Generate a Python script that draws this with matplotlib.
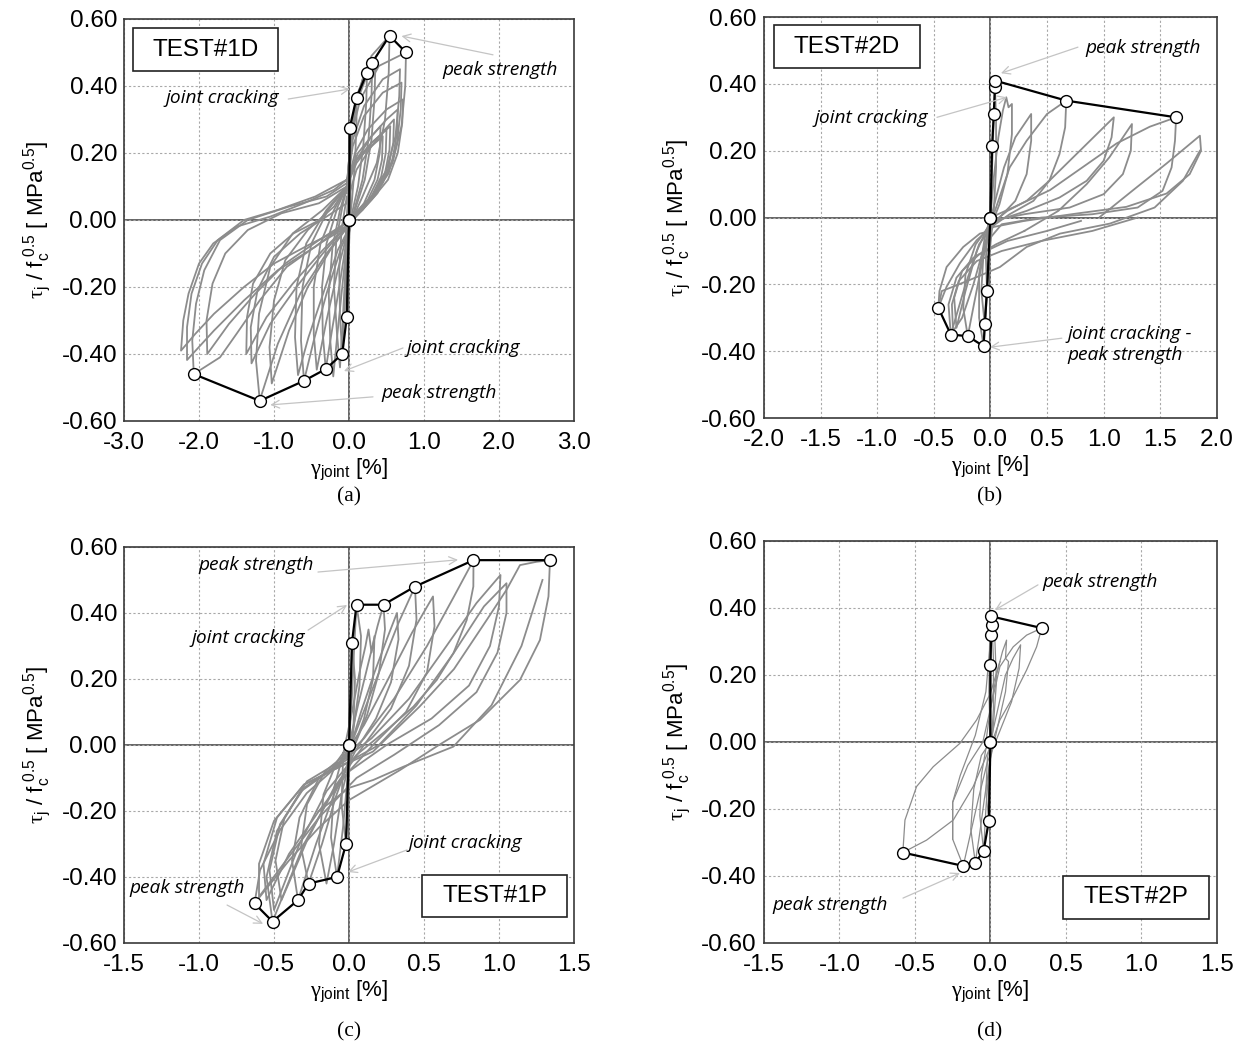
import matplotlib
matplotlib.use("Agg")
import matplotlib.pyplot as plt
from matplotlib.patches import Rectangle

plt.rcParams['font.family'] = ['Liberation Sans', 'DejaVu Sans']
plt.rcParams['axes.unicode_minus'] = False
plt.rcParams['mathtext.fontset'] = 'custom'
plt.rcParams['mathtext.rm'] = 'Liberation Sans'
plt.rcParams['mathtext.it'] = 'Liberation Sans:italic'
plt.rcParams['mathtext.sf'] = 'Liberation Serif'

# ---------------- panel (a) TEST#1D ----------------
env_a_pos = [(0.0, 0.0), (0.01, 0.275), (0.10, 0.365), (0.24, 0.44), (0.31, 0.47), (0.54, 0.55), (0.76, 0.50)]
env_a_neg = [(0.0, 0.0), (-0.03, -0.29), (-0.09, -0.40), (-0.31, -0.445), (-0.60, -0.48), (-1.19, -0.54), (-2.07, -0.46)]
loops_a = [
    [(0.0, 0.0), (0.005, 0.14), (0.01, 0.27), (0.02, 0.16), (0.02, 0.04), (0.0, -0.08), (-0.02, -0.19), (-0.03, -0.29),
     (-0.05, -0.16), (-0.04, -0.03), (-0.01, 0.08)],
    [(-0.01, 0.08), (0.02, 0.2), (0.05, 0.3), (0.10, 0.365), (0.10, 0.29), (0.08, 0.17), (0.04, 0.06), (0.0, -0.02),
     (-0.03, -0.13), (-0.06, -0.26), (-0.09, -0.40), (-0.12, -0.29), (-0.13, -0.15), (-0.1, -0.03), (-0.03, 0.07)],
    [(-0.03, 0.08), (0.0, 0.18), (0.05, 0.3), (0.12, 0.38), (0.24, 0.44), (0.23, 0.35), (0.19, 0.22), (0.12, 0.1),
     (0.04, 0.02), (-0.02, -0.06), (-0.06, -0.2), (-0.09, -0.33), (-0.12, -0.44), (-0.16, -0.34), (-0.2, -0.2),
     (-0.17, -0.06), (-0.08, 0.05), (-0.02, 0.1)],
    [(-0.02, 0.1), (0.02, 0.22), (0.08, 0.33), (0.18, 0.42), (0.31, 0.47), (0.30, 0.37), (0.26, 0.24), (0.18, 0.12),
     (0.07, 0.03), (-0.03, -0.07), (-0.09, -0.2), (-0.15, -0.33), (-0.21, -0.467), (-0.25, -0.36), (-0.27, -0.22),
     (-0.22, -0.08), (-0.12, 0.03), (-0.03, 0.1)],
    [(-0.03, 0.1), (0.02, 0.23), (0.1, 0.35), (0.22, 0.42), (0.35, 0.45), (0.34, 0.36), (0.3, 0.24), (0.21, 0.12),
     (0.08, 0.03), (-0.04, -0.07), (-0.13, -0.2), (-0.22, -0.32), (-0.31, -0.445), (-0.35, -0.34), (-0.36, -0.2),
     (-0.3, -0.07), (-0.15, 0.04), (-0.03, 0.1)],
    [(-0.03, 0.1), (0.03, 0.26), (0.12, 0.38), (0.3, 0.49), (0.54, 0.55), (0.53, 0.44), (0.48, 0.3), (0.37, 0.17),
     (0.18, 0.07), (0.0, -0.02), (-0.15, -0.15), (-0.3, -0.3), (-0.43, -0.447), (-0.47, -0.34), (-0.47, -0.2),
     (-0.38, -0.07), (-0.2, 0.03), (-0.03, 0.1)],
    [(-0.03, 0.1), (0.04, 0.26), (0.15, 0.36), (0.4, 0.46), (0.76, 0.50), (0.75, 0.40), (0.7, 0.28), (0.58, 0.17),
     (0.38, 0.09), (0.1, 0.02), (-0.1, -0.08), (-0.3, -0.22), (-0.47, -0.36), (-0.60, -0.48), (-0.64, -0.36),
     (-0.62, -0.2), (-0.5, -0.07), (-0.28, 0.03), (-0.03, 0.1)],
    [(-0.03, 0.1), (0.05, 0.22), (0.2, 0.31), (0.45, 0.38), (0.70, 0.41), (0.69, 0.33), (0.64, 0.23), (0.53, 0.14),
     (0.32, 0.07), (0.08, 0.01), (-0.15, -0.09), (-0.36, -0.23), (-0.54, -0.35), (-0.68, -0.463), (-0.72, -0.35),
     (-0.7, -0.2), (-0.57, -0.07), (-0.3, 0.03), (-0.03, 0.1)],
    [(-0.03, 0.1), (0.08, 0.2), (0.25, 0.27), (0.5, 0.33), (0.72, 0.36), (0.71, 0.29), (0.65, 0.2), (0.52, 0.12),
     (0.3, 0.06), (0.05, 0.0), (-0.25, -0.09), (-0.55, -0.2), (-0.8, -0.33), (-1.03, -0.488), (-1.06, -0.38),
     (-1.0, -0.24), (-0.85, -0.12), (-0.55, -0.03), (-0.2, 0.04), (-0.03, 0.1)],
    [(-0.03, 0.1), (0.05, 0.24), (0.2, 0.34), (0.45, 0.42), (0.68, 0.45), (0.67, 0.37), (0.62, 0.25), (0.5, 0.15),
     (0.3, 0.07), (0.05, 0.0), (-0.3, -0.1), (-0.65, -0.22), (-0.95, -0.37), (-1.19, -0.538), (-1.24, -0.42),
     (-1.2, -0.28), (-1.05, -0.14), (-0.75, -0.04), (-0.35, 0.03), (-0.03, 0.1)],
    [(-0.03, 0.1), (0.1, 0.18), (0.3, 0.25), (0.5, 0.3), (0.65, 0.33), (0.64, 0.26), (0.58, 0.18), (0.45, 0.11),
     (0.25, 0.05), (0.05, 0.0), (-0.35, -0.09), (-0.75, -0.19), (-1.1, -0.29), (-1.37, -0.40), (-1.36, -0.29),
     (-1.28, -0.19), (-1.05, -0.1), (-0.74, -0.04), (-0.39, 0.0), (-0.03, 0.1)],
    [(-0.03, 0.05), (0.1, 0.15), (0.3, 0.22), (0.48, 0.27), (0.6, 0.30), (0.59, 0.23), (0.52, 0.15), (0.38, 0.08),
     (0.18, 0.03), (0.0, -0.01), (-0.35, -0.1), (-0.7, -0.2), (-1.05, -0.31), (-1.30, -0.428), (-1.31, -0.32),
     (-1.22, -0.21), (-1.0, -0.11), (-0.65, -0.04), (-0.3, 0.01), (-0.03, 0.05)],
    [(-0.03, 0.1), (0.1, 0.17), (0.3, 0.23), (0.45, 0.26), (0.55, 0.28), (0.54, 0.21), (0.48, 0.14), (0.35, 0.08),
     (0.18, 0.03), (0.02, 0.0), (-0.4, -0.06), (-0.85, -0.13), (-1.25, -0.22), (-1.6, -0.31), (-1.89, -0.40),
     (-1.9, -0.3), (-1.82, -0.19), (-1.65, -0.1), (-1.35, -0.03), (-0.9, 0.02), (-0.4, 0.05), (-0.03, 0.1)],
    [(-0.03, 0.11), (0.1, 0.18), (0.3, 0.23), (0.5, 0.27), (0.49, 0.2), (0.43, 0.13), (0.3, 0.07), (0.1, 0.02),
     (-0.03, -0.02), (-0.39, -0.07), (-0.83, -0.14), (-1.19, -0.24), (-1.5, -0.34), (-1.72, -0.41), (-2.07, -0.46),
     (-2.09, -0.36), (-2.04, -0.25), (-1.93, -0.15), (-1.72, -0.06), (-1.35, 0.0), (-0.8, 0.04), (-0.3, 0.07),
     (-0.03, 0.11)],
    [(-0.03, 0.12), (0.12, 0.2), (0.3, 0.25), (0.42, 0.28), (0.41, 0.2), (0.34, 0.12), (0.2, 0.05), (0.02, 0.0),
     (-0.45, -0.08), (-0.95, -0.15), (-1.4, -0.24), (-1.8, -0.33), (-2.16, -0.418), (-2.16, -0.32), (-2.1, -0.22),
     (-1.96, -0.13), (-1.75, -0.06), (-1.4, 0.0), (-0.95, 0.03), (-0.45, 0.07), (-0.03, 0.12)],
    [(-0.03, 0.12), (0.1, 0.18), (0.3, 0.22), (0.45, 0.25), (0.44, 0.18), (0.38, 0.12), (0.25, 0.06), (0.08, 0.02),
     (-0.05, -0.02), (-0.5, -0.07), (-1.0, -0.13), (-1.4, -0.2), (-1.8, -0.28), (-2.05, -0.34), (-2.24, -0.39),
     (-2.21, -0.3), (-2.14, -0.22), (-2.0, -0.13), (-1.81, -0.07), (-1.5, -0.02), (-1.05, 0.01), (-0.6, 0.05),
     (-0.2, 0.09), (-0.03, 0.12)],
]

# ---------------- panel (b) TEST#2D ----------------
env_b_pos = [(0.0, 0.0), (0.015, 0.215), (0.03, 0.31), (0.04, 0.39), (0.04, 0.41), (0.67, 0.35), (1.64, 0.30)]
env_b_neg = [(0.0, 0.0), (-0.03, -0.22), (-0.05, -0.32), (-0.06, -0.385), (-0.20, -0.355), (-0.35, -0.35), (-0.46, -0.27)]
loops_b = [
    [(0.0, 0.0), (0.01, 0.1), (0.02, 0.2), (0.03, 0.31), (0.04, 0.39), (0.05, 0.3), (0.05, 0.15), (0.03, 0.02),
     (0.0, -0.08), (-0.02, -0.15), (-0.03, -0.22), (-0.04, -0.12), (-0.02, -0.02), (0.0, 0.0)],
    [(0.0, 0.0), (0.03, 0.12), (0.07, 0.24), (0.11, 0.32), (0.14, 0.36), (0.16, 0.33), (0.19, 0.34), (0.19, 0.25),
     (0.15, 0.13), (0.08, 0.04), (0.0, -0.03), (-0.02, -0.15), (-0.04, -0.25), (-0.05, -0.32), (-0.08, -0.22),
     (-0.06, -0.1), (-0.01, -0.02)],
    [(-0.01, -0.02), (0.05, 0.06), (0.12, 0.15), (0.22, 0.24), (0.36, 0.31), (0.36, 0.23), (0.32, 0.13),
     (0.22, 0.05), (0.08, 0.0), (0.0, -0.04), (-0.02, -0.15), (-0.04, -0.28), (-0.06, -0.385), (-0.1, -0.3),
     (-0.1, -0.17), (-0.05, -0.06), (0.02, 0.0)],
    [(0.02, 0.0), (0.1, 0.08), (0.17, 0.15), (0.32, 0.23), (0.5, 0.31), (0.67, 0.35), (0.66, 0.27), (0.61, 0.19),
     (0.52, 0.11), (0.38, 0.05), (0.17, 0.01), (0.0, -0.03), (-0.07, -0.13), (-0.14, -0.25), (-0.2, -0.355),
     (-0.24, -0.27), (-0.22, -0.17), (-0.13, -0.08), (0.0, -0.02)],
    [(0.0, -0.02), (0.15, 0.02), (0.32, 0.05), (0.52, 0.11), (0.73, 0.18), (0.91, 0.24), (1.09, 0.30),
     (1.07, 0.24), (1.0, 0.17), (0.85, 0.11), (0.61, 0.06), (0.32, 0.02), (0.05, -0.01), (-0.1, -0.08),
     (-0.22, -0.2), (-0.35, -0.35), (-0.37, -0.26), (-0.3, -0.18), (-0.15, -0.12), (0.05, -0.08), (0.3, -0.04)],
    [(0.3, -0.04), (0.6, 0.02), (0.85, 0.1), (1.05, 0.18), (1.25, 0.28), (1.24, 0.2), (1.17, 0.13), (1.0, 0.07),
     (0.7, 0.03), (0.3, 0.01), (0.0, -0.01), (-0.12, -0.1), (-0.22, -0.22), (-0.3, -0.33), (-0.32, -0.24),
     (-0.25, -0.16), (-0.1, -0.11), (0.15, -0.07), (0.5, -0.04), (0.8, -0.01)],
    [(0.0, 0.0), (0.2, 0.03), (0.525, 0.082), (0.82, 0.152), (1.115, 0.222), (1.408, 0.272), (1.64, 0.30),
     (1.63, 0.23), (1.6, 0.15), (1.52, 0.08), (1.3, 0.03), (0.9, 0.01), (0.45, 0.0), (0.1, -0.02), (-0.05, -0.08),
     (-0.15, -0.2), (-0.25, -0.3), (-0.33, -0.34), (-0.34, -0.26), (-0.28, -0.19), (-0.12, -0.13), (0.1, -0.1),
     (0.45, -0.07), (0.9, -0.04), (1.3, 0.0)],
    [(0.967, 0.002), (1.26, 0.082), (1.556, 0.162), (1.85, 0.245), (1.86, 0.2), (1.76, 0.13), (1.556, 0.072),
     (1.2, 0.032), (0.76, 0.012), (0.3, -0.01), (0.0, -0.03), (-0.122, -0.068), (-0.27, -0.137), (-0.387, -0.207),
     (-0.46, -0.27), (-0.45, -0.22), (-0.387, -0.148), (-0.24, -0.088), (-0.093, -0.048), (0.0, -0.04)],
    [(-0.46, -0.27), (-0.43, -0.22), (-0.33, -0.207), (-0.12, -0.178), (0.084, -0.148), (0.32, -0.088),
     (0.614, -0.048), (1.055, -0.018), (1.45, 0.03), (1.7, 0.11), (1.85, 0.2)],
]

# ---------------- panel (c) TEST#1P ----------------
env_c_pos = [(0.0, 0.0), (0.02, 0.31), (0.05, 0.425), (0.23, 0.425), (0.44, 0.48), (0.83, 0.56), (1.34, 0.56)]
env_c_neg = [(0.0, 0.0), (-0.02, -0.30), (-0.08, -0.40), (-0.27, -0.42), (-0.34, -0.47), (-0.51, -0.535), (-0.63, -0.48)]
loops_c = [
    [(0.0, 0.0), (0.01, 0.15), (0.02, 0.31), (0.04, 0.2), (0.03, 0.06), (0.0, -0.08), (-0.01, -0.2), (-0.02, -0.30),
     (-0.05, -0.18), (-0.04, -0.05), (0.0, 0.0)],
    [(0.0, 0.0), (0.02, 0.15), (0.035, 0.3), (0.05, 0.425), (0.08, 0.33), (0.07, 0.18), (0.03, 0.05), (-0.01, -0.1),
     (-0.04, -0.25), (-0.08, -0.40), (-0.12, -0.28), (-0.1, -0.13), (-0.04, -0.03)],
    [(-0.04, -0.03), (0.02, 0.1), (0.07, 0.22), (0.11, 0.3), (0.13, 0.35), (0.15, 0.28), (0.17, 0.33), (0.16, 0.2),
     (0.1, 0.08), (0.02, -0.02), (-0.05, -0.15), (-0.1, -0.3), (-0.15, -0.42), (-0.2, -0.3), (-0.17, -0.15),
     (-0.08, -0.05), (0.0, 0.0)],
    [(0.0, 0.0), (0.06, 0.12), (0.13, 0.25), (0.19, 0.36), (0.23, 0.425), (0.24, 0.35), (0.2, 0.22), (0.12, 0.09),
     (0.02, -0.02), (-0.09, -0.16), (-0.18, -0.3), (-0.27, -0.42), (-0.32, -0.31), (-0.28, -0.18), (-0.16, -0.08),
     (0.0, -0.02)],
    [(0.0, -0.02), (0.08, 0.1), (0.17, 0.22), (0.26, 0.33), (0.32, 0.40), (0.33, 0.32), (0.28, 0.19), (0.18, 0.08),
     (0.04, -0.02), (-0.1, -0.15), (-0.22, -0.3), (-0.34, -0.47), (-0.38, -0.35), (-0.33, -0.22), (-0.2, -0.1),
     (-0.02, -0.04)],
    [(-0.02, -0.04), (0.08, 0.08), (0.2, 0.22), (0.33, 0.37), (0.44, 0.48), (0.45, 0.38), (0.4, 0.24), (0.28, 0.11),
     (0.1, 0.0), (-0.1, -0.13), (-0.28, -0.29), (-0.45, -0.47), (-0.49, -0.35), (-0.43, -0.22), (-0.28, -0.11),
     (-0.06, -0.05)],
    [(-0.06, -0.05), (0.1, 0.06), (0.25, 0.19), (0.42, 0.34), (0.56, 0.45), (0.57, 0.36), (0.52, 0.22), (0.38, 0.1),
     (0.16, 0.0), (-0.08, -0.12), (-0.3, -0.3), (-0.51, -0.535), (-0.55, -0.4), (-0.48, -0.26), (-0.32, -0.14),
     (-0.1, -0.07)],
    [(-0.1, -0.07), (0.1, 0.02), (0.3, 0.14), (0.52, 0.3), (0.7, 0.45), (0.83, 0.56), (0.829, 0.48), (0.785, 0.379),
     (0.696, 0.278), (0.585, 0.197), (0.429, 0.116), (0.251, 0.045), (0.05, -0.03), (-0.15, -0.14), (-0.33, -0.3),
     (-0.5, -0.5), (-0.53, -0.38), (-0.46, -0.24), (-0.3, -0.13), (-0.08, -0.06)],
    [(-0.08, -0.06), (0.15, 0.02), (0.4, 0.14), (0.65, 0.3), (0.85, 0.43), (1.01, 0.515), (1.0, 0.42), (0.94, 0.3),
     (0.8, 0.18), (0.55, 0.08), (0.25, 0.0), (0.0, -0.08), (-0.2, -0.2), (-0.4, -0.33), (-0.55, -0.47),
     (-0.57, -0.36), (-0.48, -0.22), (-0.3, -0.12), (-0.08, -0.07)],
    [(-0.08, -0.07), (0.2, 0.0), (0.45, 0.12), (0.7, 0.28), (0.9, 0.42), (1.05, 0.49), (1.05, 0.4), (0.99, 0.28),
     (0.85, 0.16), (0.6, 0.06), (0.3, -0.03), (0.05, -0.1), (-0.2, -0.22), (-0.42, -0.35), (-0.6, -0.46),
     (-0.6, -0.36), (-0.5, -0.23), (-0.3, -0.12), (-0.08, -0.07)],
    [(-0.08, -0.07), (0.16, -0.02), (0.47, 0.116), (0.7, 0.23), (0.92, 0.38), (1.05, 0.47), (1.14, 0.545),
     (1.25, 0.555), (1.34, 0.56), (1.33, 0.45), (1.273, 0.318), (1.14, 0.197), (0.873, 0.076), (0.6, 0.0),
     (0.34, -0.076), (0.0, -0.167), (-0.2, -0.25), (-0.4, -0.35), (-0.63, -0.48), (-0.593, -0.379),
     (-0.46, -0.258), (-0.282, -0.146), (-0.082, -0.066), (0.0, -0.04)],
    [(-0.2, -0.2), (0.0, -0.13), (0.162, -0.106), (0.362, -0.066), (0.696, -0.005), (0.95, 0.12), (1.15, 0.3),
     (1.29, 0.5)],
]

# ---------------- panel (d) TEST#2P ----------------
env_d_pos = [(0.0, 0.0), (0.0, 0.23), (0.005, 0.32), (0.01, 0.35), (0.005, 0.375), (0.34, 0.34)]
env_d_neg = [(0.0, 0.0), (-0.01, -0.235), (-0.045, -0.325), (-0.10, -0.36), (-0.18, -0.37), (-0.58, -0.33)]
loops_d = [
    [(0.0, 0.0), (0.0, 0.15), (0.005, 0.32), (0.01, 0.35), (0.02, 0.25), (0.02, 0.1), (0.0, -0.05), (-0.01, -0.15),
     (-0.01, -0.235), (-0.03, -0.15), (-0.02, -0.05), (0.0, 0.0)],
    [(0.0, 0.0), (-0.01, 0.15), (-0.005, 0.3), (0.005, 0.375), (0.03, 0.3), (0.04, 0.18), (0.02, 0.05),
     (-0.01, -0.08), (-0.03, -0.2), (-0.045, -0.325), (-0.07, -0.22), (-0.06, -0.1), (-0.03, -0.02), (0.0, 0.0)],
    [(-0.03, 0.0), (0.0, 0.1), (0.04, 0.2), (0.08, 0.27), (0.107, 0.304), (0.1, 0.25), (0.12, 0.24), (0.1, 0.15),
     (0.05, 0.05), (0.0, -0.05), (-0.04, -0.17), (-0.07, -0.27), (-0.1, -0.36), (-0.13, -0.26), (-0.11, -0.14),
     (-0.06, -0.04), (0.0, 0.0)],
    [(0.0, 0.0), (0.05, 0.1), (0.1, 0.2), (0.15, 0.25), (0.2, 0.29), (0.19, 0.22), (0.14, 0.12), (0.06, 0.03),
     (-0.02, -0.06), (-0.08, -0.17), (-0.13, -0.27), (-0.18, -0.37), (-0.25, -0.29), (-0.25, -0.18),
     (-0.15, -0.07), (-0.05, 0.0)],
    [(-0.05, 0.0), (0.0, 0.1), (0.063, 0.225), (0.151, 0.284), (0.24, 0.319), (0.34, 0.34), (0.306, 0.284),
     (0.24, 0.215), (0.151, 0.135), (0.063, 0.066), (0.0, -0.014), (-0.114, -0.133), (-0.246, -0.233),
     (-0.423, -0.293), (-0.58, -0.33), (-0.566, -0.233), (-0.489, -0.133), (-0.379, -0.074), (-0.202, -0.004),
     (-0.091, 0.066), (0.0, 0.145), (0.063, 0.24)],
    [(-0.25, -0.29), (-0.25, -0.18), (-0.2, -0.1), (-0.1, 0.02), (-0.03, 0.15), (0.0, 0.3)],
]

GRAY = '#8c8c8c'
ARROW = '#c4c4c4'


def draw_panel(ax, loops, env_pos, env_neg, xlim, xstep, lw, test, box_xy):
    for loop in loops:
        xs, ys = zip(*loop)
        ax.plot(xs, ys, color=GRAY, lw=lw, zorder=2, solid_joinstyle='round')
    for env in (env_pos, env_neg):
        xs, ys = zip(*env)
        ax.plot(xs, ys, color='black', lw=1.6, marker='o', ms=8.5, mfc='white', mec='black', mew=1.0, zorder=4)

    ax.set_xlim(-xlim, xlim)
    ax.set_ylim(-0.6, 0.6)
    n = int(round(2 * xlim / xstep))
    ax.set_xticks([-xlim + i * xstep for i in range(n + 1)])
    ax.set_yticks([-0.6 + 0.2 * i for i in range(7)])
    ax.xaxis.set_major_formatter(matplotlib.ticker.FormatStrFormatter('%.1f'))
    ax.yaxis.set_major_formatter(matplotlib.ticker.FormatStrFormatter('%.2f'))
    ax.grid(True, ls=(0, (2, 2)), color='#a8a8a8', lw=0.8, zorder=0)
    ax.axhline(0, color='#3a3a3a', lw=1.1, zorder=1)
    ax.axvline(0, color='#3a3a3a', lw=1.1, zorder=1)
    for s in ax.spines.values():
        s.set_color('#3a3a3a')
        s.set_linewidth(1.2)
    ax.tick_params(length=0, labelsize=17.5)
    ax.tick_params(axis='x', pad=8)
    ax.tick_params(axis='y', pad=5)
    ax.set_xlabel(r'$\mathsf{\gamma}_{\mathrm{joint}}$ [%]', fontsize=16, labelpad=2)
    ax.set_ylabel(r'$\mathsf{\tau}_{\mathrm{j}}$ / $\mathrm{f}_{\mathrm{c}}^{\ 0.5}$ [ MPa$^{0.5}$]',
                  fontsize=16, labelpad=6)

    w, h = 0.322, 0.107
    ax.add_patch(Rectangle((box_xy[0] - w / 2, box_xy[1] - h / 2), w, h, transform=ax.transAxes,
                           facecolor='white', edgecolor='#222222', lw=1.2, zorder=6))
    ax.text(box_xy[0], box_xy[1], test, transform=ax.transAxes, ha='center', va='center',
            fontsize=17.5, zorder=7)


def note(ax, text, text_xy, start, tip, ha='center'):
    ax.text(text_xy[0], text_xy[1], text, ha=ha, va='center', fontsize=13.8, style='italic',
            family='Open Sans', zorder=7, linespacing=1.15)
    ax.annotate('', xy=tip, xytext=start,
                arrowprops=dict(arrowstyle='->', color=ARROW, lw=0.9, shrinkA=0, shrinkB=0,
                                mutation_scale=14), zorder=5)


fig = plt.figure(figsize=(12.44, 10.48), dpi=100)
ax_a = fig.add_axes([0.0997, 0.5983, 0.3617, 0.3836])
ax_b = fig.add_axes([0.6141, 0.6011, 0.3641, 0.3826])
ax_c = fig.add_axes([0.0997, 0.1002, 0.3617, 0.3779])
ax_d = fig.add_axes([0.6141, 0.1002, 0.3641, 0.3836])

draw_panel(ax_a, loops_a, env_a_pos, env_a_neg, 3.0, 1.0, 1.3, 'TEST#1D', (0.181, 0.923))
draw_panel(ax_b, loops_b, env_b_pos, env_b_neg, 2.0, 0.5, 1.3, 'TEST#2D', (0.183, 0.926))
draw_panel(ax_c, loops_c, env_c_pos, env_c_neg, 1.5, 0.5, 1.3, 'TEST#1P', (0.824, 0.119))
draw_panel(ax_d, loops_d, env_d_pos, env_d_neg, 1.5, 0.5, 0.9, 'TEST#2P', (0.821, 0.114))

note(ax_a, 'peak strength', (2.01, 0.448), (1.92, 0.493), (0.70, 0.549))
note(ax_a, 'joint cracking', (-1.69, 0.364), (-0.81, 0.361), (0.013, 0.391))
note(ax_a, 'joint cracking', (1.52, -0.382), (0.72, -0.382), (-0.067, -0.451))
note(ax_a, 'peak strength', (1.2, -0.516), (0.32, -0.528), (-1.05, -0.552))

note(ax_b, 'peak strength', (1.347, 0.507), (0.773, 0.51), (0.093, 0.432))
note(ax_b, 'joint cracking', (-1.055, 0.298), (-0.472, 0.30), (0.146, 0.36))
note(ax_b, 'joint cracking -\npeak strength', (0.684, -0.38), (0.631, -0.361), (-0.004, -0.388), ha='left')

note(ax_c, 'peak strength', (-0.62, 0.545), (-0.207, 0.524), (0.727, 0.561))
note(ax_c, 'joint cracking', (-0.673, 0.324), (-0.273, 0.348), (-0.013, 0.424))
note(ax_c, 'joint cracking', (0.773, -0.297), (0.387, -0.318), (-0.007, -0.385))
note(ax_c, 'peak strength', (-1.08, -0.433), (-0.813, -0.485), (-0.573, -0.542))

note(ax_d, 'peak strength', (0.725, 0.478), (0.315, 0.469), (0.03, 0.394))
note(ax_d, 'peak strength', (-1.063, -0.487), (-0.579, -0.466), (-0.202, -0.391))

for label, x, y in [('(a)', 349, 497), ('(b)', 990, 497), ('(c)', 349, 1032), ('(d)', 990, 1032)]:
    fig.text(x / 1244, 1 - y / 1048, label, ha='center', va='center', fontsize=15.5, family='Liberation Serif')

fig.savefig('out.png', dpi=100)
